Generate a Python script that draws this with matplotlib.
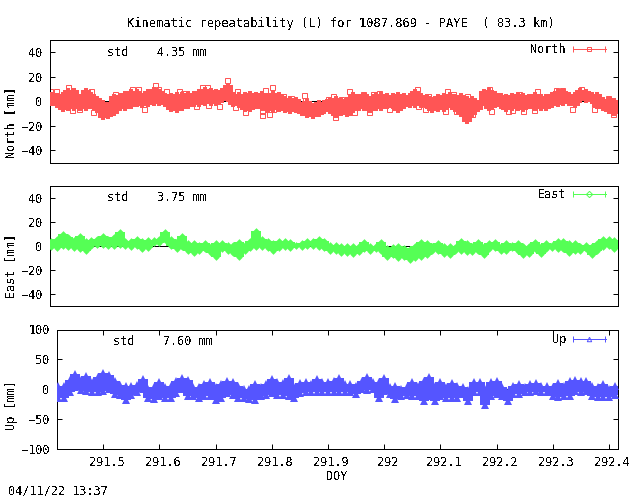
import matplotlib
matplotlib.use("Agg")
import matplotlib.pyplot as plt
from matplotlib.container import ErrorbarContainer
from matplotlib.legend_handler import HandlerErrorbar
from matplotlib.transforms import ScaledTranslation

plt.rcParams.update({
    "font.family": "DejaVu Sans Mono", "font.size": 8.6,
    "text.antialiased": False, "lines.antialiased": False,
    "patch.antialiased": False, "axes.linewidth": 0.72,
})

TITLE = "Kinematic repeatability (L) for 1087.869 - PAYE  ( 83.3 km)"
STAMP = "04/11/22 13:37"
XTICKS = [291.5, 291.6, 291.7, 291.8, 291.9, 292.0, 292.1, 292.2, 292.3, 292.4]
XTICK_LABELS = ["291.5", "291.6", "291.7", "291.8", "291.9", "292", "292.1", "292.2", "292.3", "292.4"]
NE_TICKS = [-40, -20, 0, 20, 40]
UP_TICKS = [-100, -50, 0, 50, 100]

doy = [291.42, 291.43, 291.44, 291.45, 291.46, 291.47, 291.48, 291.49, 291.50, 291.51,
       291.52, 291.53, 291.54, 291.55, 291.56, 291.57, 291.58, 291.59, 291.60, 291.61,
       291.62, 291.63, 291.64, 291.65, 291.66, 291.67, 291.68, 291.69, 291.70, 291.71,
       291.72, 291.73, 291.74, 291.75, 291.76, 291.77, 291.78, 291.79, 291.80, 291.81,
       291.82, 291.83, 291.84, 291.85, 291.86, 291.87, 291.88, 291.89, 291.90, 291.91,
       291.92, 291.93, 291.94, 291.95, 291.96, 291.97, 291.98, 291.99, 292.00, 292.01,
       292.02, 292.03, 292.04, 292.05, 292.06, 292.07, 292.08, 292.09, 292.10, 292.11,
       292.12, 292.13, 292.14, 292.15, 292.16, 292.17, 292.18, 292.19, 292.20, 292.21,
       292.22, 292.23, 292.24, 292.25, 292.26, 292.27, 292.28, 292.29, 292.30, 292.31,
       292.32, 292.33, 292.34, 292.35, 292.36, 292.37, 292.38, 292.39, 292.40, 292.41]

north_hi = [6, 5, 6, 9, 9, 4, 9, 6, 3, -1,
            -2, 4, 5, 7, 8, 8, 5, 8, 10, 8,
            5, 5, 6, 6, 7, 7, 8, 10, 9, 8,
            9, 13, 6, 6, 6, 7, 6, 7, 5, 7,
            6, 3, 3, 2, -2, 0, -3, -1, -1, 2,
            3, 1, 2, 6, 4, 6, 3, 6, 6, 5,
            5, 6, 5, 5, 8, 5, 4, 2, 4, 5,
            6, 4, 5, 3, 3, -1, 8, 9, 7, 5,
            4, 5, 6, 5, 4, 6, 4, 4, 6, 8,
            8, 6, 6, 9, 8, 6, 6, 2, 2, 1]
north_lo = [-2, -4, -7, -6, -6, -6, -6, -5, -8, -14,
            -13, -10, -6, -6, -5, -3, -4, -3, -2, -2,
            -3, -7, -8, -6, -5, -3, -3, -2, -2, -2,
            0, 1, -3, -4, -7, -7, -5, -6, -8, -7,
            -7, -8, -9, -8, -10, -12, -13, -11, -9, -9,
            -12, -10, -11, -8, -6, -6, -8, -6, -6, -5,
            -5, -8, -5, -4, -4, -4, -5, -8, -7, -7,
            -4, -7, -11, -17, -11, -7, -2, -6, -4, -5,
            -7, -6, -6, -7, -5, -6, -6, -6, -4, -3,
            -2, -2, -4, 0, 0, -1, -5, -6, -9, -10]
north_out_x = [291.417, 291.428, 291.45, 291.456, 291.469, 291.49, 291.494, 291.532, 291.561,
               291.573, 291.582, 291.602, 291.608, 291.621, 291.645, 291.652, 291.675, 291.684,
               291.693, 291.696, 291.714, 291.729, 291.747, 291.743, 291.761, 291.79, 291.79,
               291.795, 291.803, 291.808, 291.81, 291.827, 291.841, 291.865, 291.866, 291.918,
               291.919, 291.915, 291.907, 291.93, 291.944, 291.944, 291.952, 291.968, 291.979,
               291.985, 291.996, 292.014, 292.062, 292.065, 292.077, 292.083, 292.112, 292.116,
               292.126, 292.132, 292.15, 292.16, 292.19, 292.193, 292.223, 292.23, 292.243,
               292.249, 292.274, 292.269, 292.308, 292.317, 292.336, 292.352, 292.374, 292.399,
               292.408]
north_out_y = [8, 8, 12, -7, -6, 8, -9, 6, 10,
               10, -6, 13, 10, 8, 8, 7, -4, 12,
               12, -3, -4, 17, 8, -5, -9, -8, -11,
               9, -10, 12, -6, 4, 3, 5, 1, -10,
               -13, 4, 2, 2, 8, -9, -9, 6, -9,
               6, 7, -6, 10, -4, -6, 4, -8, 8,
               6, -8, 4, -10, 10, -8, -8, -7, 6,
               -8, 8, -7, 9, 9, -6, 10, -6, 3,
               -10]

east_hi = [4, 6, 10, 7, 5, 8, 4, 5, 6, 8,
           6, 7, 11, 4, 4, 6, 4, 5, 5, 6,
           11, 6, 4, 8, 2, 2, 1, 2, 0, 2,
           2, 1, 1, 3, 1, 4, 12, 6, 4, 2,
           4, 4, 3, 1, 2, 4, 4, 6, 4, 1,
           1, 0, 0, 0, 0, 3, 0, 0, 3, -2,
           -1, 0, -2, -3, 0, 3, 2, 0, 2, 0,
           0, -1, 4, 2, 0, 3, 0, 2, 3, 0,
           2, 1, 2, 0, 0, 3, 0, 2, 1, 4,
           4, 2, 2, 0, 1, 0, 2, 6, 6, 5]
east_lo = [-1, -2, 0, -1, -2, -3, -4, 0, 1, 1,
           0, 0, 1, 0, -1, 0, -3, -2, 2, 2,
           5, 0, -3, -1, -4, -6, -4, -3, -6, -9,
           -3, -4, -6, -9, -4, -2, -1, -1, -2, -4,
           -2, -1, -2, 0, -1, 0, 0, -1, -2, -4,
           -4, -6, -6, -7, -5, -3, -4, -3, -4, -9,
           -8, -10, -9, -12, -10, -9, -8, -4, -4, -7,
           -8, -4, -4, -5, -5, -4, -8, -3, -2, -4,
           -4, -2, -4, -8, -7, -3, -7, -3, -2, -3,
           -3, -6, -4, -4, -3, -8, -4, -1, 0, -3]

up_hi = [6, 5, 16, 25, 16, 22, 12, 20, 27, 24,
         14, 7, 6, 5, 7, 17, 0, 3, 12, 3,
         5, 13, 18, 16, 3, 3, 8, 12, 3, 8,
         14, 12, 6, 0, 0, 8, 3, 8, 17, 12,
         10, 18, 3, 10, 12, 9, 17, 12, 12, 14,
         18, 9, 8, 6, 14, 20, 12, 12, 18, 3,
         6, 0, 3, 12, 6, 14, 20, 6, 12, 3,
         10, 6, 4, -2, 12, 12, 0, 12, 14, 3,
         -4, 6, 9, 3, 8, 10, 6, 5, 3, 10,
         6, 13, 16, 13, 13, 6, 3, 8, 0, 6]
up_lo = [-15, -15, -4, 4, -2, -3, -5, -4, -3, 0,
         -8, -9, -18, -9, -5, 0, -15, -16, -11, -14,
         -14, -7, 0, -11, -11, -14, -11, -11, -18, -14,
         -7, -9, -14, -14, -16, -18, -11, -9, -7, -9,
         -9, -11, -14, -7, -4, -4, -5, -4, -4, -4,
         -4, -5, -5, -8, 0, -2, 0, -14, -3, -8,
         -17, -11, -9, -11, -11, -19, -11, -19, -11, -14,
         -14, -14, -8, -19, -5, -5, -26, -11, -8, -11,
         -20, -8, -8, -5, -4, -3, -4, -5, -11, -13,
         -11, -11, -3, -4, -3, -11, -13, -13, -13, -9]

W, H = 640, 496
fig = plt.figure(figsize=(W / 100, H / 100), dpi=100, facecolor="white")


def make_axes(left, top, right, bottom):
    return fig.add_axes([left / W, 1 - bottom / H, (right - left) / W, (bottom - top) / H])


def style(ax, ylim, yticks, show_x):
    ax.set_xlim(291.4167, 292.4162)
    ax.set_ylim(*ylim)
    ax.set_yticks(yticks)
    if show_x:
        ax.set_xticks(XTICKS, XTICK_LABELS)
    else:
        ax.set_xticks([])
    ax.tick_params(direction="in", length=3.4, width=0.72, top=True, right=True, pad=5)
    if show_x:
        shift = ScaledTranslation(3.2 / 100, 0, fig.dpi_scale_trans)
        for lab in ax.get_xticklabels():
            lab.set_transform(lab.get_transform() + shift)
    ax.axhline(0, color="black", lw=0.72, zorder=1)


RED, GREEN, BLUE = "#ff5555", "#55ff55", "#5555ff"
panels = [
    ("North", make_axes(49.5, 40, 618, 162.5), north_hi, north_lo, RED, "s", (-50, 50), NE_TICKS,
     "std    4.35 mm", 49.3),
    ("East", make_axes(49.5, 185.5, 618, 306), east_hi, east_lo, GREEN, "D", (-50, 50), NE_TICKS,
     "std    3.75 mm", 195),
    ("Up", make_axes(56.5, 329.5, 618, 449), up_hi, up_lo, BLUE, "^", (-100, 100), UP_TICKS,
     "std    7.60 mm", 340),
]

for name, ax, hi, lo, col, mk, ylim, yt, std, leg_y in panels:
    style(ax, ylim, yt, name == "Up")
    ax.vlines(doy, lo, hi, colors=col, linewidth=5.8, zorder=3)
    ms = {"s": 3.0, "D": 3.4, "^": 5.4}[mk]
    ax.plot(doy, hi, ls="none", marker=mk, ms=ms, color=col, mew=0, zorder=3)
    ax.plot(doy, lo, ls="none", marker=mk, ms=ms, color=col, mew=0, zorder=3)
    if name == "North":
        ax.plot(north_out_x, north_out_y, ls="none", marker="s", ms=3.6, mfc="none",
                mec=col, mew=0.72, zorder=2)
    handle = ax.errorbar([float("nan")], [float("nan")], xerr=[1], color=col, ecolor=col, marker=mk,
                         ms=3.2, mfc="none", mec=col, mew=0.72, lw=0.72, elinewidth=0.72,
                         capsize=2.5, capthick=0.72, label=name)
    leg = ax.legend(handles=[handle], frameon=False, markerfirst=False, loc="center right",
                    bbox_to_anchor=(605.5 / W, 1 - leg_y / H), bbox_transform=fig.transFigure,
                    borderpad=0, borderaxespad=0, handlelength=2.75, handletextpad=0.55,
                    handler_map={ErrorbarContainer: HandlerErrorbar(xerr_size=1.36)})
    std_x = 113 if name == "Up" else 107
    std_y = {"North": 52, "East": 197.5, "Up": 341.5}[name]
    fig.text(std_x / W, 1 - std_y / H, std, ha="left", va="center")

fig.text(340.5 / W, 1 - 23 / H, TITLE, ha="center", va="center", fontsize=8.65)
fig.text(11 / W, 1 - 122 / H, "North [mm]", rotation=90, ha="center", va="center")
fig.text(11 / W, 1 - 266 / H, "East [mm]", rotation=90, ha="center", va="center")
fig.text(11 / W, 1 - 405 / H, "Up [mm]", rotation=90, ha="center", va="center")
fig.text(337 / W, 1 - 477 / H, "DOY", ha="center", va="center")
fig.text(8 / W, 1 - 491 / H, STAMP, ha="left", va="center")

fig.savefig("out.png", dpi=100)
